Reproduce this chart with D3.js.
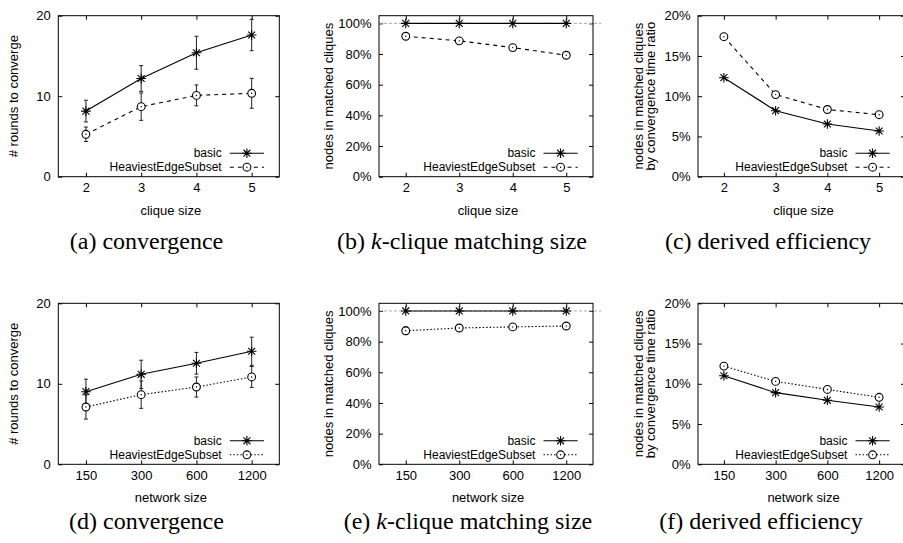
<!DOCTYPE html>
<html>
<head>
<meta charset="utf-8">
<script src="https://cdn.jsdelivr.net/npm/d3@7/dist/d3.min.js"></script>
<style>
  html, body { margin: 0; padding: 0; background: #fff; }
  svg { display: block; }
  .tick text { font-family: "Liberation Sans", Arial, sans-serif; font-size: 13px; fill: #000; }
  .lbl { font-family: "Liberation Sans", Arial, sans-serif; font-size: 13px; fill: #000; }
  .key { font-family: "Liberation Sans", Arial, sans-serif; font-size: 12px; fill: #000; }
  .cap { font-family: "Liberation Serif", "Times New Roman", serif; font-size: 24px; fill: #000; }
</style>
</head>
<body>
<svg id="chart" width="903" height="543"></svg>
<script>
// Categories on the x axes
const cliqueSizes = ["2", "3", "4", "5"];
const networkSizes = ["150", "300", "600", "1200"];

// Rounds to converge vs clique size (mean, error half-width)
const roundsCliqueBasic = [8.15, 12.2, 15.4, 17.6];
const roundsCliqueBasicErr = [1.35, 1.6, 2.05, 1.95];
const roundsCliqueHES = [5.27, 8.7, 10.1, 10.36];
const roundsCliqueHESErr = [0.9, 1.7, 1.3, 1.85];

// Share of nodes in matched cliques vs clique size (%)
const matchedCliqueBasic = [100, 100, 100, 100];
const matchedCliqueHES = [91.6, 88.6, 84.2, 79.2];
const matchedCliqueHESErr = [1.5, 1.5, 1.5, 1.5];

// Derived efficiency vs clique size (%)
const effCliqueBasic = [12.3, 8.2, 6.55, 5.68];
const effCliqueHES = [17.4, 10.2, 8.35, 7.7];

// Rounds to converge vs network size
const roundsNetBasic = [9.02, 11.18, 12.55, 14.04];
const roundsNetBasicErr = [1.55, 1.75, 1.35, 1.75];
const roundsNetHES = [7.12, 8.65, 9.6, 10.85];
const roundsNetHESErr = [1.5, 1.7, 1.25, 1.3];

// Share of nodes in matched cliques vs network size (%)
const matchedNetBasic = [100, 100, 100, 100];
const matchedNetHES = [87.1, 88.9, 89.6, 90.2];
const matchedNetHESErr = [2.5, 2.0, 1.8, 1.5];

// Derived efficiency vs network size (%)
const effNetBasic = [11.0, 8.9, 7.95, 7.12];
const effNetHES = [12.2, 10.3, 9.3, 8.32];

const roundsTicks = [0, 10, 20];
const matchedTicks = [0, 20, 40, 60, 80, 100];
const effTicks = [0, 5, 10, 15, 20];

const seriesNames = ["basic", "HeaviestEdgeSubset"];

const svg = d3.select("#chart");

const rows = [
  { top: 15.7, bottom: 176.7, xLabel: "clique size", cats: cliqueSizes, dash: "4,4", xLabelY: 214.5, capY: 249 },
  { top: 303.3, bottom: 464.3, xLabel: "network size", cats: networkSizes, dash: "1.5,2", xLabelY: 501.5, capY: 529 }
];
const cols = [
  { left: 58.3, right: 279.3 },
  { left: 379, right: 593 },
  { left: 698, right: 905 }
];

function starPath(r) {
  const c = r * 0.72;
  return `M${-r},0H${r}M0,${-r}V${r}M${-c},${-c}L${c},${c}M${-c},${c}L${c},${-c}`;
}

function drawMarker(g, type, cx, cy) {
  if (type === "star") {
    g.append("path").attr("d", starPath(4.8)).attr("transform", `translate(${cx},${cy})`)
      .attr("stroke", "#000").attr("stroke-width", 1.1).attr("fill", "none");
  } else {
    g.append("circle").attr("cx", cx).attr("cy", cy).attr("r", 3.9)
      .attr("fill", "#fff").attr("stroke", "#000").attr("stroke-width", 1.1);
    g.append("circle").attr("cx", cx).attr("cy", cy).attr("r", 0.7).attr("fill", "#000");
  }
}

function drawPanel(opt) {
  const { row, col } = opt;
  const g = svg.append("g");
  const x = d3.scalePoint().domain(row.cats).range([col.left, col.right]).padding(0.5);
  const y = d3.scaleLinear().domain(opt.yDomain).range([row.bottom, row.top]);
  const fmt = opt.pct ? (d => d + "%") : (d => d);

  // axes with inward ticks, mirrored on top and right
  g.append("g").attr("transform", `translate(${col.left},0)`)
    .call(d3.axisLeft(y).tickValues(opt.yTicks).tickFormat(fmt).tickSizeInner(-4).tickSizeOuter(0).tickPadding(7.5))
    .call(a => a.select(".domain").remove());
  g.append("g").attr("transform", `translate(${col.right},0)`)
    .call(d3.axisRight(y).tickValues(opt.yTicks).tickFormat("").tickSizeInner(-4).tickSizeOuter(0))
    .call(a => a.select(".domain").remove());
  g.append("g").attr("transform", `translate(0,${row.bottom})`)
    .call(d3.axisBottom(x).tickSizeInner(-4).tickSizeOuter(0).tickPadding(6))
    .call(a => a.select(".domain").remove());
  g.append("g").attr("transform", `translate(0,${row.top})`)
    .call(d3.axisTop(x).tickFormat("").tickSizeInner(-4).tickSizeOuter(0))
    .call(a => a.select(".domain").remove());
  g.selectAll(".tick line").attr("stroke", "#000");

  // reference line at 100%
  if (opt.refLine !== undefined) {
    g.append("line")
      .attr("x1", col.left).attr("x2", col.right + 8)
      .attr("y1", y(opt.refLine)).attr("y2", y(opt.refLine))
      .attr("stroke", "#aaa").attr("stroke-width", 1).attr("stroke-dasharray", "3,2");
  }

  // frame
  g.append("rect")
    .attr("x", col.left).attr("y", row.top)
    .attr("width", col.right - col.left).attr("height", row.bottom - row.top)
    .attr("fill", "none").attr("stroke", "#000").attr("stroke-width", 1);

  const line = d3.line().x((d, i) => x(row.cats[i])).y(d => y(d));
  const series = [
    { vals: opt.basic, err: opt.basicErr, dash: null, mark: "star" },
    { vals: opt.hes, err: opt.hesErr, dash: row.dash, mark: "circle" }
  ];

  series.forEach(s => {
    if (s.err) {
      const eb = g.append("g").attr("stroke", "#222").attr("stroke-width", 1);
      s.vals.forEach((v, i) => {
        const cx = x(row.cats[i]);
        const y1 = y(v - s.err[i]), y2 = y(v + s.err[i]);
        eb.append("line").attr("x1", cx).attr("x2", cx).attr("y1", y1).attr("y2", y2);
        eb.append("line").attr("x1", cx - 2).attr("x2", cx + 2).attr("y1", y1).attr("y2", y1);
        eb.append("line").attr("x1", cx - 2).attr("x2", cx + 2).attr("y1", y2).attr("y2", y2);
      });
    }
    g.append("path").datum(s.vals)
      .attr("d", line).attr("fill", "none").attr("stroke", "#000").attr("stroke-width", 1.1)
      .attr("stroke-dasharray", s.dash);
    s.vals.forEach((v, i) => drawMarker(g, s.mark, x(row.cats[i]), y(v)));
  });

  // legend
  const keyX1 = col.right - 49.5, keyX2 = col.right - 15.3, keyM = col.right - 32.4;
  [row.bottom - 23.5, row.bottom - 9.5].forEach((ly, k) => {
    g.append("text").attr("class", "key")
      .attr("x", col.right - 57.6).attr("y", ly).attr("dy", "0.35em")
      .attr("text-anchor", "end").text(seriesNames[k]);
    g.append("line").attr("x1", keyX1).attr("x2", keyX2).attr("y1", ly).attr("y2", ly)
      .attr("stroke", "#000").attr("stroke-width", 1.1)
      .attr("stroke-dasharray", k === 0 ? null : row.dash);
    drawMarker(g, k === 0 ? "star" : "circle", keyM, ly);
  });

  // axis titles
  const cy = (row.top + row.bottom) / 2;
  opt.yLabel.forEach((t, k) => {
    const lx = col.left - opt.yLabelOffset[k];
    g.append("text").attr("class", "lbl")
      .attr("transform", `translate(${lx},${cy}) rotate(-90)`)
      .attr("text-anchor", "middle").attr("dy", "0.35em").text(t);
  });
  g.append("text").attr("class", "lbl")
    .attr("x", (col.left + col.right) / 2 + 2).attr("y", row.xLabelY)
    .attr("text-anchor", "middle").text(row.xLabel);

  // caption
  const cap = g.append("text").attr("class", "cap")
    .attr("x", opt.capX).attr("y", row.capY).attr("text-anchor", "middle");
  opt.caption.forEach(part => {
    const ts = cap.append("tspan").text(part.t);
    if (part.i) ts.attr("font-style", "italic");
  });
}

const roundsLabel = ["# rounds to converge"];
const matchedLabel = ["nodes in matched cliques"];
const effLabel = ["nodes in matched cliques", "by convergence time ratio"];

// top row: clique size
drawPanel({ row: rows[0], col: cols[0], yDomain: [0, 20], yTicks: roundsTicks,
  basic: roundsCliqueBasic, basicErr: roundsCliqueBasicErr, hes: roundsCliqueHES, hesErr: roundsCliqueHESErr,
  yLabel: roundsLabel, yLabelOffset: [45], capX: 146.5, caption: [{ t: "(a) convergence" }] });
drawPanel({ row: rows[0], col: cols[1], yDomain: [0, 105], yTicks: matchedTicks, pct: true, refLine: 100,
  basic: matchedCliqueBasic, hes: matchedCliqueHES, hesErr: matchedCliqueHESErr,
  yLabel: matchedLabel, yLabelOffset: [51], capX: 462,
  caption: [{ t: "(b) " }, { t: "k", i: true }, { t: "-clique matching size" }] });
drawPanel({ row: rows[0], col: cols[2], yDomain: [0, 20], yTicks: effTicks, pct: true,
  basic: effCliqueBasic, hes: effCliqueHES,
  yLabel: effLabel, yLabelOffset: [60, 47.5], capX: 768, caption: [{ t: "(c) derived efficiency" }] });

// bottom row: network size
drawPanel({ row: rows[1], col: cols[0], yDomain: [0, 20], yTicks: roundsTicks,
  basic: roundsNetBasic, basicErr: roundsNetBasicErr, hes: roundsNetHES, hesErr: roundsNetHESErr,
  yLabel: roundsLabel, yLabelOffset: [45], capX: 146.5, caption: [{ t: "(d) convergence" }] });
drawPanel({ row: rows[1], col: cols[1], yDomain: [0, 105], yTicks: matchedTicks, pct: true, refLine: 100,
  basic: matchedNetBasic, hes: matchedNetHES, hesErr: matchedNetHESErr,
  yLabel: matchedLabel, yLabelOffset: [51], capX: 468,
  caption: [{ t: "(e) " }, { t: "k", i: true }, { t: "-clique matching size" }] });
drawPanel({ row: rows[1], col: cols[2], yDomain: [0, 20], yTicks: effTicks, pct: true,
  basic: effNetBasic, hes: effNetHES,
  yLabel: effLabel, yLabelOffset: [60, 47.5], capX: 761, caption: [{ t: "(f) derived efficiency" }] });
</script>
</body>
</html>
